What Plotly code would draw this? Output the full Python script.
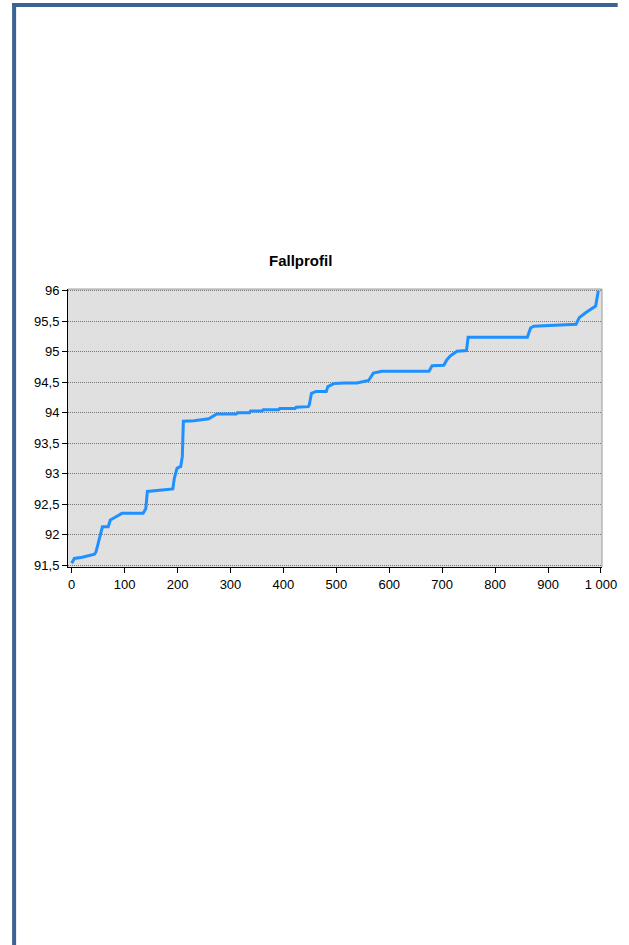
import plotly.graph_objects as go

# Step-profile points
x_vals = [0, 5, 20, 43, 46, 51, 58, 69, 73, 83, 95, 135, 140, 143, 172, 191, 194, 199,
          206, 209, 211, 231, 259, 265, 274, 311, 313, 336, 338, 360, 362, 391, 393, 422,
          424, 447, 449, 453, 462, 481, 484, 496, 515, 539, 561, 570, 586, 675, 681, 703,
          709, 715, 728, 746, 749, 861, 867, 873, 916, 953, 959, 971, 990, 993, 995]
y_vals = [91.53, 91.61, 91.63, 91.68, 91.72, 91.91, 92.13, 92.13, 92.24, 92.29, 92.35,
          92.35, 92.43, 92.71, 92.73, 92.75, 92.93, 93.09, 93.12, 93.28, 93.86, 93.87,
          93.90, 93.93, 93.98, 93.98, 94.00, 94.00, 94.03, 94.03, 94.05, 94.05, 94.07,
          94.07, 94.09, 94.10, 94.13, 94.32, 94.35, 94.35, 94.43, 94.48, 94.49, 94.49,
          94.53, 94.65, 94.68, 94.68, 94.77, 94.78, 94.87, 94.93, 95.01, 95.02, 95.24,
          95.24, 95.39, 95.42, 95.43, 95.45, 95.56, 95.64, 95.75, 95.91, 96.00]

x_ticks = [0, 100, 200, 300, 400, 500, 600, 700, 800, 900, 1000]
y_ticks = [91.5, 92, 92.5, 93, 93.5, 94, 94.5, 95, 95.5, 96]
title_text = "Fallprofil"

W, H = 629, 945
L, R, T, B = 68, 16, 289, 378
pw, ph = W - L - R, H - T - B

def px_to_paper_x(px):
    return (px - L) / pw

def px_to_paper_y(py):
    return (H - B - py) / ph

fig = go.Figure()
fig.add_trace(go.Scatter(
    x=x_vals, y=y_vals, mode="lines",
    line=dict(color="#1e90ff", width=3),
    hoverinfo="skip", showlegend=False,
))

font_family = "Liberation Sans, Arial, sans-serif"

fig.update_layout(
    width=W, height=H,
    margin=dict(l=L, r=R, t=T, b=B),
    paper_bgcolor="white",
    plot_bgcolor="#e0e0e0",
    separators=", ",
    font=dict(family=font_family, size=13, color="black"),
    xaxis=dict(
        range=[-7, 1002], tickvals=x_ticks, tickformat=",d",
        showgrid=False, zeroline=False,
        showline=True, linecolor="black", linewidth=1,
        ticks="outside", ticklen=5, tickcolor="black",
    ),
    yaxis=dict(
        range=[91.47, 96.03], tickvals=y_ticks,
        showgrid=True, gridcolor="#777777", griddash="1px,1px", gridwidth=1,
        zeroline=False,
        showline=True, linecolor="black", linewidth=1,
        ticks="outside", ticklen=5, tickcolor="black",
    ),
    annotations=[dict(
        text="<b>" + title_text + "</b>", xref="paper", yref="paper",
        x=px_to_paper_x(305), y=px_to_paper_y(271), xanchor="center", yanchor="bottom",
        showarrow=False, font=dict(family=font_family, size=15, color="black"),
    )],
    shapes=[
        dict(type="line", xref="paper", yref="paper", x0=0, x1=1, y0=1, y1=1,
             line=dict(color="#9a9a9a", width=1)),
        dict(type="line", xref="paper", yref="paper", x0=1, x1=1, y0=0, y1=1,
             line=dict(color="#9a9a9a", width=1)),
        dict(type="line", xref="paper", yref="paper",
             x0=px_to_paper_x(13), x1=px_to_paper_x(13),
             y0=px_to_paper_y(3), y1=px_to_paper_y(950),
             line=dict(color="#3b6195", width=4)),
        dict(type="line", xref="paper", yref="paper",
             x0=px_to_paper_x(11), x1=px_to_paper_x(629),
             y0=px_to_paper_y(5), y1=px_to_paper_y(5),
             line=dict(color="#3b6195", width=4)),
    ],
)

fig.write_html(
    "out.html",
    config={"displayModeBar": False, "staticPlot": True},
    post_script="document.body.style.margin='0';document.body.style.overflow='hidden';",
)
